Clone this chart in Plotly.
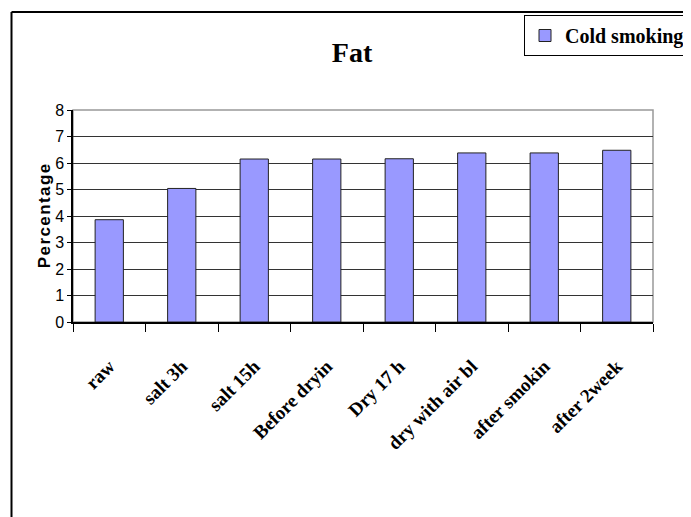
import plotly.graph_objects as go

categories = ["raw", "salt 3h", "salt 15h", "Before dryin", "Dry 17 h",
              "dry with air bl", "after smokin", "after 2week"]
fat_values = [3.86, 5.04, 6.15, 6.15, 6.16, 6.38, 6.38, 6.48]
y_ticks = [0, 1, 2, 3, 4, 5, 6, 7, 8]
series_name = "Cold smoking"
chart_title = "Fat"
y_title = "Percentage"

SERIF = "Liberation Serif, Times New Roman, serif"
SANS = "Liberation Sans Narrow, Liberation Sans, Arial, sans-serif"

# page body has an 8px margin; figure sized to fit the window
W, H = 683, 509
L, T = 65, 102          # plot area top-left inside the figure
PW, PH = 580, 212       # plot area size

fig = go.Figure()
fig.add_trace(go.Bar(
    x=categories, y=fat_values, name=series_name,
    marker=dict(color="#9999FF", line=dict(color="#222222", width=1)),
    showlegend=True,
))

bx = (3.5 - L) / PW          # outer chart frame, left edge
by = 1 + (T - 4) / PH        # outer chart frame, top edge

fig.update_layout(
    width=W, height=H,
    margin=dict(l=L, r=W - L - PW, t=T, b=H - T - PH, autoexpand=False),
    paper_bgcolor="white", plot_bgcolor="white",
    bargap=0.61,
    title=dict(text="<b>" + chart_title + "</b>", x=344 / W, xanchor="center",
               y=1 - 44 / H, yanchor="middle",
               font=dict(family=SERIF, size=28, color="black")),
    legend=dict(x=(516 - L) / PW, y=1 + (T - 7) / PH, xanchor="left", yanchor="top",
                bgcolor="white", bordercolor="black", borderwidth=1,
                font=dict(family=SERIF, size=20, color="black", weight="bold"),
                itemwidth=30),
    xaxis=dict(
        type="category", tickson="boundaries", ticks="outside", ticklen=8,
        tickcolor="black", showline=True, linecolor="black", linewidth=1.5,
        tickangle=-45, ticklabelstandoff=24,
        tickfont=dict(family=SERIF, size=19, color="black", weight="bold"),
        showgrid=False,
    ),
    yaxis=dict(
        range=[0, 8], tickvals=y_ticks, ticks="outside", ticklen=4,
        tickcolor="black", showline=True, linecolor="black", linewidth=1.5,
        showgrid=True, gridcolor="#333333", gridwidth=1,
        tickfont=dict(family=SANS, size=16, color="black"),
        title=dict(text="<b>" + "\u200a".join(y_title) + "</b>", standoff=0,
                   font=dict(family="Liberation Sans, Arial, sans-serif", size=17, color="black")),
        zeroline=False,
    ),
    shapes=[
        dict(type="rect", xref="paper", yref="paper", x0=0, x1=1, y0=0, y1=1,
             line=dict(color="#999999", width=1.5), layer="below"),
        dict(type="line", xref="paper", yref="paper",
             x0=bx, x1=bx, y0=-1.2, y1=by,
             line=dict(color="black", width=2)),
        dict(type="line", xref="paper", yref="paper",
             x0=bx, x1=1.3, y0=by, y1=by,
             line=dict(color="black", width=2)),
    ],
)

fig.write_html("out.html")
